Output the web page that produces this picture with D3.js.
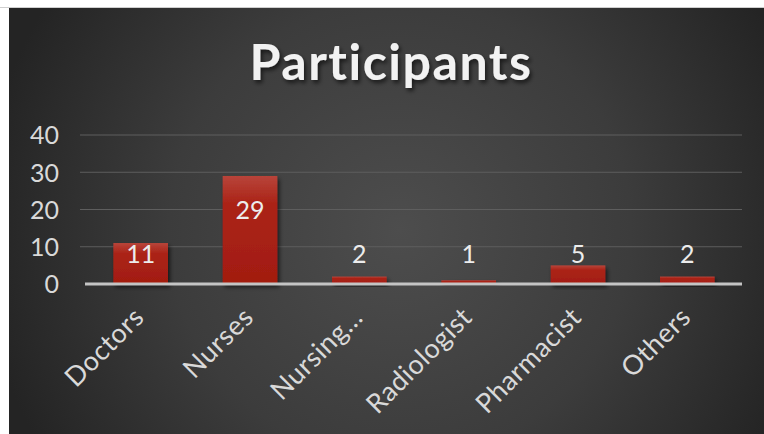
<!DOCTYPE html>
<html><head><meta charset="utf-8">
<script src="https://cdn.jsdelivr.net/npm/d3@7"></script>
<style>html,body{margin:0;padding:0;background:#fff;overflow:hidden}</style>
</head><body>
<svg id="chart" width="764" height="434"></svg>
<script>
const title = "Participants";
const categories = ["Doctors", "Nurses", "Nursing…", "Radiologist", "Pharmacist", "Others"];
const values = [11, 29, 2, 1, 5, 2];
const yTicks = [0, 10, 20, 30, 40];

const svg = d3.select("#chart");
const defs = svg.append("defs");
const bg = defs.append("radialGradient").attr("id","bg").attr("gradientUnits","userSpaceOnUse")
  .attr("cx",400).attr("cy",230).attr("r",420);
bg.append("stop").attr("offset","0%").attr("stop-color","#4d4d4d");
bg.append("stop").attr("offset","55%").attr("stop-color","#3c3c3c");
bg.append("stop").attr("offset","100%").attr("stop-color","#242424");
const bar = defs.append("linearGradient").attr("id","bar").attr("x1",0).attr("y1",0).attr("x2",0).attr("y2",1);
bar.append("stop").attr("offset","0%").attr("stop-color","#b8443a");
bar.append("stop").attr("offset","25%").attr("stop-color","#ab2418");
bar.append("stop").attr("offset","100%").attr("stop-color","#a21c10");
const sh = defs.append("filter").attr("id","sh").attr("x","-10%").attr("y","-10%").attr("width","130%").attr("height","140%");
sh.append("feDropShadow").attr("dx",2).attr("dy",3).attr("stdDeviation",2).attr("flood-color","#000").attr("flood-opacity",0.6);

// panel
svg.append("line").attr("x1",0).attr("x2",764).attr("y1",7.5).attr("y2",7.5).attr("stroke","#cfcfcf").attr("stroke-width",1);
svg.append("rect").attr("x",9).attr("y",8).attr("width",755).attr("height",426).attr("fill","url(#bg)");

const x = d3.scaleBand().domain(categories).range([86, 742]).paddingInner(0.5).paddingOuter(0.25);
const y = d3.scaleLinear().domain([0, 40]).range([284, 135]);

// gridlines
svg.append("g").selectAll("line").data(yTicks.filter(d => d > 0)).join("line")
  .attr("x1",80).attr("x2",742).attr("y1",d=>y(d)).attr("y2",d=>y(d))
  .attr("stroke","#5e5e5e").attr("stroke-width",1);

// y axis labels
const yAxis = svg.append("g").attr("transform","translate(59,0)")
  .call(d3.axisLeft(y).tickValues(yTicks).tickSize(0).tickPadding(0));
yAxis.select(".domain").remove();
yAxis.selectAll("text").attr("font-family","Lato, sans-serif").attr("font-size",25)
  .attr("fill","#d9d9d9").attr("dy","0.35em");

// bars
svg.append("g").selectAll("rect").data(values).join("rect")
  .attr("x",(d,i)=>x(categories[i])).attr("width",x.bandwidth())
  .attr("y",d=>y(d)).attr("height",d=>y(0)-y(d))
  .attr("fill","url(#bar)").attr("filter","url(#sh)");

// zero axis line
svg.append("line").attr("x1",85).attr("x2",742).attr("y1",y(0)).attr("y2",y(0))
  .attr("stroke","#c4c4c4").attr("stroke-width",3);

// value labels
svg.append("g").selectAll("text").data(values).join("text")
  .attr("x",(d,i)=>x(categories[i])+x.bandwidth()/2)
  .attr("y",d=>Math.min(y(d)+34, y(8)))
  .attr("dy","0.35em").attr("text-anchor","middle")
  .attr("font-family","Lato, sans-serif").attr("font-size",25)
  .attr("fill","#ececec").text(d=>d);

// category labels
const xAxis = svg.append("g").attr("transform",`translate(0,${y(0)})`)
  .call(d3.axisBottom(x).tickSize(0).tickPadding(0));
xAxis.select(".domain").remove();
xAxis.selectAll("text")
  .attr("font-family","Lato, sans-serif").attr("font-size",27).attr("fill","#d9d9d9")
  .attr("letter-spacing",0.5)
  .attr("text-anchor","end").attr("dy",0)
  .attr("transform","translate(5,35) rotate(-45)")
  .attr("y",0).attr("x",0);

// title
const t = svg.append("text").attr("x",391).attr("y",80).attr("text-anchor","middle")
  .attr("font-family","Lato, sans-serif").attr("font-weight","bold").attr("font-size",50)
  .attr("fill","#f2f2f2").attr("filter","url(#sh)").attr("letter-spacing",1.5).text(title);
const w = t.node().getComputedTextLength();
t.attr("font-size", 50 * 283 / w);
</script>
</body></html>
